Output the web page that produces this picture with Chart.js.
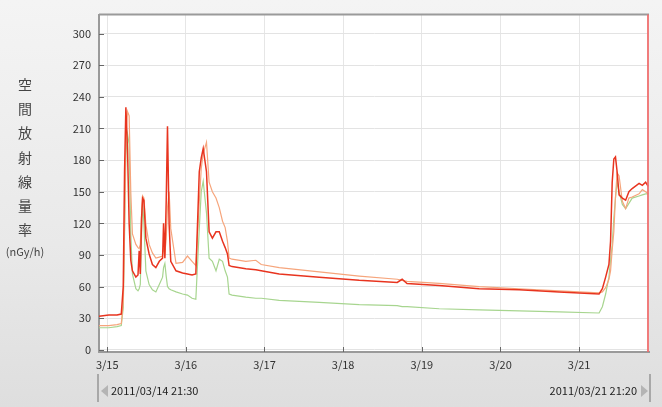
<!DOCTYPE html>
<html>
<head>
<meta charset="utf-8">
<script src="https://cdn.jsdelivr.net/npm/chart.js@4"></script>
<style>
  body { margin: 0; }
  #wrap {
    position: relative; width: 662px; height: 407px; overflow: hidden;
    background: linear-gradient(180deg, #f4f4f4 0%, #e9e9e9 60%, #dedede 100%);
    font-family: 'Noto Sans CJK JP', 'Noto Sans', sans-serif;
  }
  #c { position: absolute; left: 0; top: 0; }
  .ttl { position: absolute; left: 0; width: 50px; text-align: center; color: #444; font-size: 14px; line-height: 16px; }
  .unit { position: absolute; left: 0; width: 50px; text-align: center; color: #444; font-size: 11px; top: 243px; }
  .nav { position: absolute; font-size: 11px; color: #222; top: 382px; white-space: nowrap; }
  .bar { position: absolute; top: 374px; width: 2px; height: 28px; background: #a8a8a8; }
  .arrL { position: absolute; top: 385px; left: 101px; width: 0; height: 0;
    border-top: 6px solid transparent; border-bottom: 6px solid transparent; border-right: 7px solid #b4b4b4; }
  .arrR { position: absolute; top: 385px; left: 641px; width: 0; height: 0;
    border-top: 6px solid transparent; border-bottom: 6px solid transparent; border-left: 7px solid #b4b4b4; }
</style>
</head>
<body>
<div id="wrap">
  <canvas id="c" width="662" height="407"></canvas>
  <div class="ttl" style="top:76px">空</div>
  <div class="ttl" style="top:100px">間</div>
  <div class="ttl" style="top:124px">放</div>
  <div class="ttl" style="top:149px">射</div>
  <div class="ttl" style="top:173px">線</div>
  <div class="ttl" style="top:197px">量</div>
  <div class="ttl" style="top:221px">率</div>
  <div class="unit">(nGy/h)</div>
  <div class="bar" style="left:97px"></div>
  <div class="arrL"></div>
  <div class="nav" style="left:111px">2011/03/14 21:30</div>
  <div class="nav" style="right:25px">2011/03/21 21:20</div>
  <div class="arrR"></div>
  <div class="bar" style="left:649px"></div>
</div>
<script>
// hours since 2011/03/15 00:00
const hours = [
  -2.5, 0.5, 3.0, 4.3, 4.9, 5.3, 5.7, 6.2, 6.7, 7.2, 7.7, 8.75, 9.4, 9.76, 10.1, 10.5, 10.8, 11.2, 11.8,
  12.8, 13.8, 14.85, 15.9, 16.9, 17.2, 17.6, 18.0, 18.4, 18.9, 19.4, 21.0, 23.0, 24.5, 25.9, 27.05,
  28.1, 28.7, 29.3, 30.3, 31.1, 32.1, 33.2, 34.2, 35.2, 36.0, 36.7, 37.2, 38.1, 42.3, 45.35, 47.0,
  52.5, 64.7, 76.9, 88.5, 90.0, 91.5, 101.3, 113.5, 125.7, 137.9, 150.1, 151.1, 152.1, 153.1, 153.6,
  154.1, 154.6, 155.1, 155.6, 156.2, 157.2, 158.2, 159.2, 160.2, 162.3, 163.3, 164.3, 165.1
];
const redValues = [
  32, 33, 33, 34, 60, 170, 230, 190, 120, 85, 75, 69, 71, 94, 72, 125, 144, 142, 106,
  91, 81, 78, 84, 87, 120, 87, 140, 212, 119, 84, 75, 73, 72, 71, 72,
  169, 182, 191, 169, 112, 106, 112, 112, 103, 97, 91, 80, 79, 77, 76, 75,
  72, 69, 66, 64, 67, 63, 61, 58, 57, 55, 53, 58, 69, 81, 103,
  159, 181, 183, 169, 147, 144, 142, 150, 153, 158, 156, 159, 155
];
const orangeValues = [
  23, 23, 24, 25, 45, 120, 200, 226, 222, 150, 110, 100, 97, 96, 100, 130, 146, 144, 119,
  100, 92, 87, 88, 89, 96, 92, 105, 135, 150, 115, 82, 83, 89, 84, 80,
  140, 172, 186, 197, 159, 150, 144, 135, 122, 116, 103, 87, 86, 84, 85, 81,
  78, 74, 70, 67, 66, 65, 63, 60, 58, 56, 54, 55, 59, 67, 75,
  95, 112, 145, 168, 165, 141, 134, 144, 145, 148, 152, 150, 148
];
const greenValues = [
  21, 21, 22, 23, 40, 110, 185, 205, 195, 110, 72, 58, 56, 58, 62, 110, 140, 120, 75,
  62, 57, 55, 62, 69, 78, 82, 70, 60, 58, 57, 55, 53, 52, 49, 48,
  115, 150, 160, 130, 87, 84, 75, 86, 84, 75, 69, 53, 52, 50, 49, 49,
  47, 45, 43, 42, 41, 41, 39, 38, 37, 36, 35, 41, 53, 69, 85,
  100, 125, 144, 159, 150, 138, 134, 139, 144, 146, 147, 148, 148
];
const dayTicks = [0, 24, 48, 72, 96, 120, 144];
const dayLabels = ['3/15', '3/16', '3/17', '3/18', '3/19', '3/20', '3/21'];
const yTicks = [0, 30, 60, 90, 120, 150, 180, 210, 240, 270, 300];

const toPoints = vals => hours.map((h, i) => ({ x: h, y: vals[i] }));

// white plot area, frame, inner tick marks
const frame = {
  id: 'frame',
  beforeDraw(chart) {
    const { ctx, chartArea: a } = chart;
    ctx.save();
    ctx.fillStyle = '#fff';
    ctx.fillRect(a.left, a.top, a.right - a.left, a.bottom - a.top);
    ctx.restore();
  },
  afterDraw(chart) {
    const { ctx, chartArea: a, scales } = chart;
    ctx.save();
    ctx.strokeStyle = '#666';
    ctx.lineWidth = 1;
    scales.x.ticks.forEach(t => {
      const px = Math.round(scales.x.getPixelForValue(t.value)) + 0.5;
      ctx.beginPath(); ctx.moveTo(px, a.bottom); ctx.lineTo(px, a.bottom - 5); ctx.stroke();
    });
    scales.y.ticks.forEach(t => {
      const py = Math.round(scales.y.getPixelForValue(t.value)) + 0.5;
      ctx.beginPath(); ctx.moveTo(a.left, py); ctx.lineTo(a.left + 5, py); ctx.stroke();
    });
    ctx.strokeStyle = '#9a9a9a';
    ctx.lineWidth = 2;
    ctx.beginPath(); ctx.moveTo(a.left, a.top); ctx.lineTo(a.right, a.top); ctx.stroke();
    ctx.strokeStyle = 'rgba(238,110,110,0.9)';
    ctx.beginPath(); ctx.moveTo(a.right - 1, a.top); ctx.lineTo(a.right - 1, a.bottom); ctx.stroke();
    ctx.restore();
  }
};

new Chart(document.getElementById('c'), {
  type: 'line',
  data: {
    datasets: [
      { data: toPoints(redValues), borderColor: '#e8341f', borderWidth: 1.5, order: 1 },
      { data: toPoints(orangeValues), borderColor: '#f6a57c', borderWidth: 1.2, order: 2 },
      { data: toPoints(greenValues), borderColor: '#a7d58f', borderWidth: 1.2, order: 3 }
    ]
  },
  options: {
    responsive: false,
    animation: false,
    devicePixelRatio: 1,
    layout: { padding: { top: 11, right: 13, left: 0, bottom: 0 } },
    elements: { point: { radius: 0 }, line: { tension: 0 } },
    plugins: { legend: { display: false }, tooltip: { enabled: false } },
    scales: {
      x: {
        type: 'linear',
        min: -2.5,
        max: 165.33,
        afterBuildTicks: s => { s.ticks = dayTicks.map(v => ({ value: v })); },
        afterFit: s => { s.height = 55; },
        ticks: {
          autoSkip: false, maxRotation: 0, padding: 6,
          color: '#333', font: { family: "'Noto Sans CJK JP'", size: 11 },
          callback: v => dayLabels[dayTicks.indexOf(v)]
        },
        grid: { color: '#e6e6e6', drawTicks: false },
        border: { color: '#9a9a9a', width: 2 }
      },
      y: {
        min: -2,
        max: 318,
        afterBuildTicks: s => { s.ticks = yTicks.map(v => ({ value: v })); },
        afterFit: s => { s.width = 99; },
        ticks: {
          autoSkip: false, padding: 8,
          color: '#333', font: { family: "'Noto Sans CJK JP'", size: 11 }
        },
        grid: { color: '#e3e3e3', drawTicks: false },
        border: { color: '#9a9a9a', width: 2 }
      }
    }
  },
  plugins: [frame]
});
</script>
</body>
</html>
